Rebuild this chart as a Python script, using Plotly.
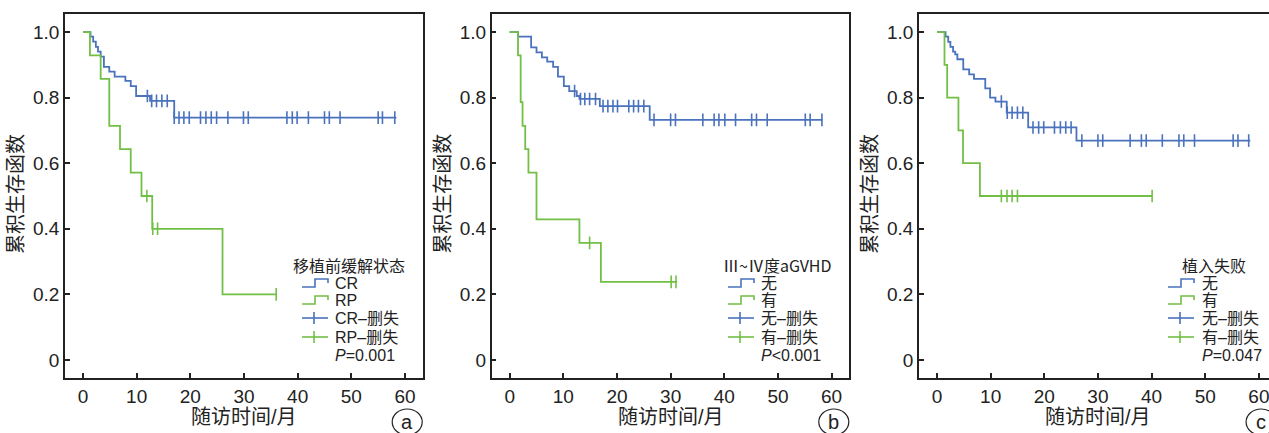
import plotly.graph_objects as go

W, H = 1269, 433

# ---------------- data ----------------
# Panel a: 移植前缓解状态
a_cr_times = [1.4, 1.9, 2.4, 2.8, 3.3, 3.9, 4.9, 5.9, 7.9, 8.9, 9.9, 12.5, 17.0]
a_cr_surv = [0.986, 0.971, 0.955, 0.940, 0.925, 0.894, 0.879, 0.864, 0.851, 0.835, 0.805, 0.790, 0.739]
a_cr_cens = [12.0, 12.8, 13.7, 14.7, 15.7, 17.0, 17.9, 18.8, 19.8, 21.9, 22.9, 23.9, 24.9, 27.0,
             29.9, 30.8, 38.0, 39.0, 39.9, 42.0, 45.0, 45.9, 47.9, 55.0, 55.8, 58.1]
a_cr_end = 58.4
a_rp_times = [1.3, 3.3, 4.9, 6.9, 8.9, 10.9, 12.9, 26.0]
a_rp_surv = [0.929, 0.857, 0.714, 0.643, 0.571, 0.500, 0.400, 0.200]
a_rp_cens = [11.9, 13.0, 13.9, 36.0]
a_rp_end = 36.0

# Panel b: Ⅲ~Ⅳ度aGVHD
b_no_times = [1.55, 4.0, 5.0, 6.0, 7.0, 8.1, 9.0, 10.1, 11.1, 12.5, 13.0, 16.8, 26.1]
b_no_surv = [0.986, 0.953, 0.938, 0.923, 0.910, 0.894, 0.864, 0.835, 0.820, 0.805, 0.796, 0.774, 0.732]
b_no_cens = [12.1, 13.2, 14.0, 14.9, 16.0, 17.4, 18.3, 19.25, 20.1, 22.2, 23.1, 24.0, 25.0, 26.9,
             30.0, 30.9, 36.0, 38.1, 39.0, 40.1, 42.1, 45.1, 46.0, 48.0, 55.1, 56.0, 58.2]
b_no_end = 58.3
b_yes_times = [1.55, 2.05, 2.4, 2.9, 3.5, 5.0, 13.0, 17.0]
b_yes_surv = [0.929, 0.786, 0.714, 0.643, 0.571, 0.429, 0.357, 0.238]
b_yes_cens = [14.9, 30.1, 31.0]
b_yes_end = 31.2

# Panel c: 植入失败
c_no_times = [1.6, 2.1, 2.5, 3.0, 3.4, 3.8, 4.9, 6.0, 6.9, 9.0, 9.9, 10.9, 13.0, 17.0, 26.0]
c_no_surv = [0.986, 0.970, 0.955, 0.940, 0.932, 0.917, 0.886, 0.871, 0.857, 0.828, 0.800, 0.788,
             0.754, 0.709, 0.669]
c_no_cens = [12.0, 13.1, 14.0, 15.0, 16.0, 17.9, 18.95, 19.9, 21.9, 23.0, 24.0, 25.0, 27.0, 30.0,
             30.9, 36.0, 38.1, 39.0, 42.0, 45.1, 46.0, 48.0, 55.2, 56.1, 58.1]
c_no_end = 58.4
c_yes_times = [1.4, 1.9, 4.0, 4.85, 8.0]
c_yes_surv = [0.9, 0.8, 0.7, 0.6, 0.5]
c_yes_cens = [12.0, 13.05, 14.0, 15.0, 40.1]
c_yes_end = 40.1

x_ticks = [0, 10, 20, 30, 40, 50, 60]
y_ticks = [0, 0.2, 0.4, 0.6, 0.8, 1.0]
y_tick_text = ["0", "0.2", "0.4", "0.6", "0.8", "1.0"]

panel_titles = ["移植前缓解状态", "Ⅲ~Ⅳ度aGVHD", "植入失败"]
group_names = [["CR", "RP"], ["无", "有"], ["无", "有"]]
p_texts = ["<i>P</i>=0.001", "<i>P</i><0.001", "<i>P</i>=0.047"]
panel_letters = ["a", "b", "c"]
x_title = "随访时间/月"
y_title = "累积生存函数"

# ---------------- styling ----------------
BLUE = "#4a72bd"
GREEN = "#72bf46"
INK = "#222222"
FONT = "Liberation Sans, Arial, Noto Sans CJK SC, sans-serif"
CJK_FONT = "Noto Sans CJK SC, Liberation Sans, sans-serif"

def X(px):
    return px / W

def Y(py):
    return (H - py) / H

def step_xy(times, surv, end):
    xs = [0.0] + list(times) + [end]
    ys = [1.0] + list(surv) + [surv[-1]]
    return xs, ys

def surv_at(times, surv, t):
    s = 1.0
    for ti, si in zip(times, surv):
        if t >= ti:
            s = si
    return s

panels = [
    [(a_cr_times, a_cr_surv, a_cr_cens, a_cr_end, BLUE),
     (a_rp_times, a_rp_surv, a_rp_cens, a_rp_end, GREEN)],
    [(b_no_times, b_no_surv, b_no_cens, b_no_end, BLUE),
     (b_yes_times, b_yes_surv, b_yes_cens, b_yes_end, GREEN)],
    [(c_no_times, c_no_surv, c_no_cens, c_no_end, BLUE),
     (c_yes_times, c_yes_surv, c_yes_cens, c_yes_end, GREEN)],
]

# pixel geometry of each panel's plot area
left_px = [65.0, 491.7, 919.0]
right_px = [422.7, 849.3, 1276.6]
top_px, bottom_px = 14.0, 378.0
x_range = [-3.35, 63.3]

fig = go.Figure()

for i, groups in enumerate(panels):
    xa = "x" if i == 0 else f"x{i + 1}"
    ya = "y" if i == 0 else f"y{i + 1}"
    for times, surv, cens, end, col in groups:
        xs, ys = step_xy(times, surv, end)
        fig.add_trace(go.Scatter(x=xs, y=ys, mode="lines", line=dict(color=col, width=1.8, shape="hv"),
                                 xaxis=xa, yaxis=ya, showlegend=False, hoverinfo="skip"))
        cy = [surv_at(times, surv, t) for t in cens]
        fig.add_trace(go.Scatter(x=cens, y=cy, mode="markers",
                                 marker=dict(symbol="line-ns", size=9, line=dict(color=col, width=1.6)),
                                 xaxis=xa, yaxis=ya, showlegend=False, hoverinfo="skip"))

layout = dict(width=W, height=H, margin=dict(l=0, r=0, t=0, b=0),
              paper_bgcolor="white", plot_bgcolor="white", showlegend=False,
              font=dict(family=FONT, color=INK, size=19))

annotations = []
shapes = []
for i in range(3):
    sfx = "" if i == 0 else str(i + 1)
    l = left_px[i]
    r = min(right_px[i], W)
    xr = list(x_range)
    if right_px[i] > W:
        # panel is cropped by the image edge
        xr[1] = x_range[0] + (x_range[1] - x_range[0]) * (W - l) / (right_px[i] - l)
    layout["xaxis" + sfx] = dict(
        domain=[X(l), X(r)], range=xr, anchor="y" + sfx,
        tickvals=x_ticks, ticks="inside", ticklen=5, tickwidth=1.5, tickcolor=INK,
        showline=True, linewidth=1.5, linecolor=INK, mirror=True, ticklabeloverflow="allow",
        showgrid=False, zeroline=False, tickfont=dict(size=19, family=FONT, color=INK))
    layout["yaxis" + sfx] = dict(
        domain=[Y(bottom_px), Y(top_px)], range=[-0.055, 1.055], anchor="x" + sfx,
        tickvals=y_ticks, ticktext=y_tick_text, ticks="inside", ticklen=5, tickwidth=1.5, tickcolor=INK,
        showline=True, linewidth=1.5, linecolor=INK, mirror=(right_px[i] <= W),
        showgrid=False, zeroline=False, tickfont=dict(size=19, family=FONT, color=INK))

    cx = (left_px[i] + right_px[i]) / 2
    # axis titles
    annotations.append(dict(x=X(cx), y=Y(417), xref="paper", yref="paper", text=x_title,
                            showarrow=False, xanchor="center", yanchor="middle",
                            font=dict(size=20, family=FONT, color=INK)))
    annotations.append(dict(x=X(l - 49), y=Y(194), xref="paper", yref="paper", text=y_title,
                            showarrow=False, xanchor="center", yanchor="middle", textangle=-90,
                            font=dict(size=20, family=FONT, color=INK)))
    # panel letter in circle
    lc = right_px[i] - 15.5
    shapes.append(dict(type="circle", xref="paper", yref="paper", x0=X(lc - 15), x1=X(lc + 15),
                       y0=Y(435), y1=Y(409), line=dict(color=INK, width=1.2)))
    annotations.append(dict(x=X(lc), y=Y(422), xref="paper", yref="paper", text=panel_letters[i],
                            showarrow=False, xanchor="center", yanchor="middle",
                            font=dict(size=20, family=FONT, color=INK)))

# custom legends (icon x-start, text x-start, title centre)
leg = [(302.0, 333.0, 349.0), (728.0, 759.0, 777.5), (1168.0, 1200.0, 1214.0)]
rows = [283, 300, 318, 337, 355]
for i in range(3):
    ix, tx, tcx = leg[i]
    annotations.append(dict(x=X(tcx), y=Y(265), xref="paper", yref="paper", text=panel_titles[i],
                            showarrow=False, xanchor="center", yanchor="middle",
                            font=dict(size=16, family=CJK_FONT, color=INK)))
    labels = [group_names[i][0], group_names[i][1],
              group_names[i][0] + "–删失", group_names[i][1] + "–删失", p_texts[i]]
    for k, (lab, ry) in enumerate(zip(labels, rows)):
        annotations.append(dict(x=X(tx), y=Y(ry), xref="paper", yref="paper", text=lab,
                                showarrow=False, xanchor="left", yanchor="middle",
                                font=dict(size=16, family=FONT, color=INK)))
        col = BLUE if k in (0, 2) else GREEN
        if k < 2:
            path = (f"M {X(ix)} {Y(ry + 4)} L {X(ix + 13)} {Y(ry + 4)} L {X(ix + 13)} {Y(ry - 4)} "
                    f"L {X(ix + 26)} {Y(ry - 4)} L {X(ix + 26)} {Y(ry)}")
            shapes.append(dict(type="path", xref="paper", yref="paper", path=path,
                               line=dict(color=col, width=1.6)))
        elif k < 4:
            shapes.append(dict(type="line", xref="paper", yref="paper", x0=X(ix), x1=X(ix + 26),
                               y0=Y(ry), y1=Y(ry), line=dict(color=col, width=1.6)))
            shapes.append(dict(type="line", xref="paper", yref="paper", x0=X(ix + 12), x1=X(ix + 12),
                               y0=Y(ry - 6), y1=Y(ry + 6), line=dict(color=col, width=1.6)))

layout["annotations"] = annotations
layout["shapes"] = shapes
fig.update_layout(**layout)
fig.write_html("out.html", config={"displayModeBar": False},
               post_script="document.body.style.margin='0';document.body.style.overflow='hidden';")
